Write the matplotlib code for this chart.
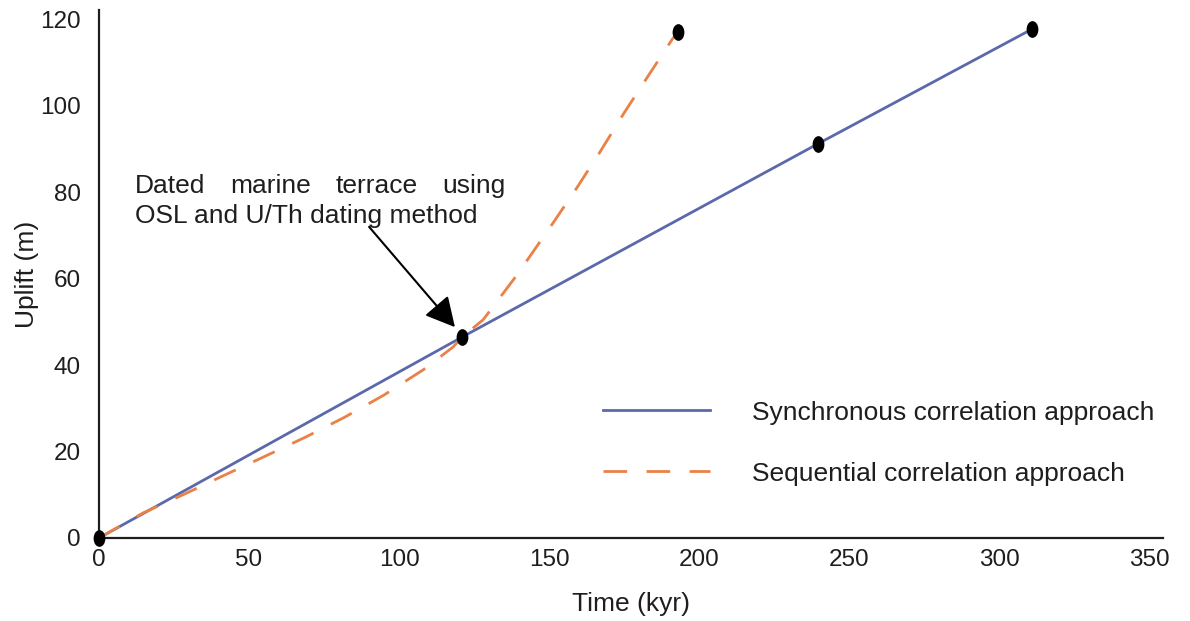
import matplotlib
matplotlib.use("Agg")
import matplotlib.pyplot as plt
from matplotlib.path import Path
from matplotlib.lines import Line2D
import numpy as np

# ---- data ----
terrace_time = [0, 121, 193, 239.5, 311]
terrace_uplift = [0, 46.5, 117.2, 91.2, 117.8]

sync_time = [0, 121, 239.5, 311]
sync_uplift = [0, 46.5, 91.2, 117.8]

seq_time = [0, 14.7, 28, 42, 55, 69, 82, 95, 108, 118, 121, 128, 139, 151, 159, 167, 175, 184, 191, 193]
seq_uplift = [0, 5.8, 10.0, 14.6, 18.8, 23.4, 28.0, 33.1, 38.9, 44.2, 46.5, 50.5, 60.6, 72.6, 80.8, 89.4, 98.4, 108.0, 115.4, 117.2]

x_ticks = [0, 50, 100, 150, 200, 250, 300, 350]
y_ticks = [0, 20, 40, 60, 80, 100, 120]

labels = ["Synchronous correlation approach", "Sequential correlation approach"]
annot_line1 = ["Dated", "marine", "terrace", "using"]
annot_line2 = "OSL and U/Th dating method"

blue = "#5b69aa"
orange = "#ea8146"
ink = "#1e1e1e"

plt.rcParams['font.family'] = ['Liberation Sans', 'DejaVu Sans']
plt.rcParams['font.size'] = 19

fig = plt.figure(figsize=(11.9, 6.21), dpi=100)
ax = fig.add_axes([0.0832, 0.1337, 0.8945, 0.8503])

ax.plot(sync_time, sync_uplift, color=blue, lw=2.0, solid_capstyle='butt', zorder=2)
ax.plot(seq_time, seq_uplift, color=orange, lw=2.0, dashes=(8.5, 7), zorder=2)

ell = Path.unit_circle()
ell = Path(ell.vertices * np.array([0.68, 1.0]), ell.codes)
ax.plot(terrace_time, terrace_uplift, ls='none', marker=ell, markersize=11,
        color='black', zorder=3, clip_on=False)

ax.set_xlim(0, 354.7)
ax.set_ylim(0, 122.2)
ax.set_xticks(x_ticks)
ax.set_yticks(y_ticks)
ax.tick_params(length=0, labelsize=17.5, colors=ink)
ax.tick_params(axis='x', pad=8)
ax.tick_params(axis='y', pad=13)
for s in ['top', 'right']:
    ax.spines[s].set_visible(False)
for s in ['left', 'bottom']:
    ax.spines[s].set_linewidth(1.6)
    ax.spines[s].set_color(ink)

ax.set_xlabel("Time (kyr)", fontsize=19, labelpad=15, color=ink)
ax.set_ylabel("Uplift (m)", fontsize=19, labelpad=1, color=ink)

# justified annotation text, line 1
word_x = [12.0, 43.7, 79.0, 114.3]
for w, xx in zip(annot_line1, word_x):
    ax.text(xx, 81.4, w, fontsize=19, va='center', ha='left', color=ink)
ax.text(12.0, 74.5, annot_line2, fontsize=19, va='center', ha='left', color=ink)

ax.annotate("", xy=(118.6, 48.8), xytext=(90.0, 72.0),
            arrowprops=dict(arrowstyle='-|>,head_length=0.95,head_width=0.5',
                            color='black', lw=1.5, shrinkA=0, shrinkB=0))

handles = [Line2D([], [], color=blue, lw=2.0),
           Line2D([], [], color=orange, lw=2.0, dashes=(8.5, 7))]
leg = ax.legend(handles, labels, loc='upper left', bbox_to_anchor=(0.451, 0.305),
                frameon=False, handlelength=4.05, handletextpad=1.6,
                labelspacing=1.4, fontsize=19)
for t in leg.get_texts():
    t.set_color(ink)

fig.savefig("out.png", dpi=100, facecolor='white')
